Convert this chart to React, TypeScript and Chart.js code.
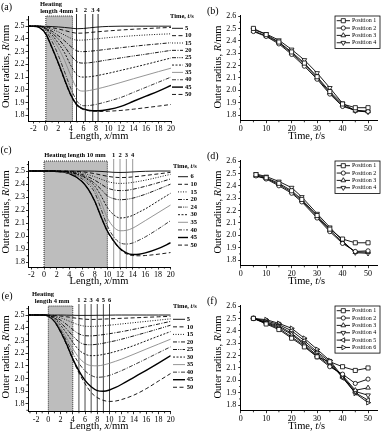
import React, { useEffect, useRef } from 'react';
import { Chart, registerables } from 'chart.js';

Chart.register(...registerables);

const SERIF = '"Liberation Serif", "Times New Roman", Times, serif';

// ---------------- Panel (a): heating length 4 mm ----------------
const A_X = [-3, -2, -1, 0, 1, 2, 3, 4, 5, 6, 7, 8, 9, 10, 12, 14, 16, 18, 20];
const A_TIMES = ['5', '10', '15', '20', '25', '30', '35', '40', '45', '50'];
const A_T5 = [2.5, 2.5, 2.5, 2.499, 2.497, 2.494, 2.49, 2.485, 2.48, 2.482, 2.487, 2.492, 2.496, 2.498, 2.5, 2.5, 2.5, 2.5, 2.5];
const A_T10 = [2.5, 2.5, 2.5, 2.495, 2.488, 2.478, 2.466, 2.453, 2.445, 2.446, 2.45, 2.455, 2.459, 2.463, 2.47, 2.476, 2.481, 2.486, 2.49];
const A_T15 = [2.5, 2.5, 2.5, 2.49, 2.475, 2.455, 2.43, 2.405, 2.39, 2.391, 2.395, 2.4, 2.405, 2.41, 2.418, 2.425, 2.431, 2.436, 2.44];
const A_T20 = [2.5, 2.5, 2.5, 2.485, 2.46, 2.425, 2.385, 2.34, 2.305, 2.3, 2.303, 2.308, 2.314, 2.32, 2.331, 2.342, 2.352, 2.361, 2.37];
const A_T25 = [2.5, 2.5, 2.5, 2.48, 2.445, 2.4, 2.34, 2.27, 2.22, 2.21, 2.213, 2.22, 2.228, 2.236, 2.251, 2.266, 2.28, 2.295, 2.31];
const A_T30 = [2.5, 2.5, 2.499, 2.475, 2.43, 2.365, 2.29, 2.19, 2.115, 2.1, 2.103, 2.11, 2.12, 2.13, 2.153, 2.176, 2.2, 2.225, 2.25];
const A_T35 = [2.5, 2.5, 2.498, 2.47, 2.41, 2.33, 2.23, 2.11, 2.01, 1.99, 1.995, 2.005, 2.017, 2.03, 2.058, 2.087, 2.115, 2.143, 2.17];
const A_T40 = [2.5, 2.5, 2.495, 2.46, 2.38, 2.27, 2.14, 2.01, 1.91, 1.875, 1.877, 1.885, 1.897, 1.91, 1.94, 1.98, 2.02, 2.06, 2.1];
const A_T45 = [2.5, 2.5, 2.488, 2.44, 2.33, 2.21, 2.08, 1.96, 1.88, 1.85, 1.838, 1.835, 1.838, 1.845, 1.87, 1.91, 1.95, 1.99, 2.035];
const A_T50 = [2.5, 2.5, 2.487, 2.435, 2.325, 2.205, 2.075, 1.955, 1.875, 1.845, 1.835, 1.831, 1.83, 1.832, 1.838, 1.848, 1.86, 1.872, 1.885];
const A_HEAT = [0, 4.25];
const A_POS = [4.9, 6.3, 7.5, 8.35];

// ---------------- Panel (b) ----------------
const B_T = [5, 10, 15, 20, 25, 30, 35, 40, 45, 50];
const B_P1 = [2.5, 2.45, 2.39, 2.31, 2.22, 2.11, 1.99, 1.89, 1.86, 1.86];
const B_P2 = [2.475, 2.435, 2.375, 2.29, 2.195, 2.09, 1.97, 1.87, 1.84, 1.83];
const B_P3 = [2.48, 2.44, 2.385, 2.3, 2.21, 2.1, 1.98, 1.88, 1.835, 1.83];
const B_P4 = [2.49, 2.455, 2.405, 2.33, 2.245, 2.14, 2.02, 1.895, 1.835, 1.825];

// ---------------- Panel (c): heating length 10 mm ----------------
const C_X = [-3, -2, 0, 2, 4, 6, 7, 8, 9, 10, 11, 12, 13, 14, 15, 16, 18, 20];
const C_TIMES = ['6', '10', '15', '20', '24', '30', '35', '40', '45', '50'];
const C_T6 = [2.5, 2.5, 2.5, 2.5, 2.5, 2.5, 2.5, 2.499, 2.497, 2.494, 2.49, 2.489, 2.49, 2.493, 2.496, 2.498, 2.5, 2.5];
const C_T10 = [2.5, 2.5, 2.5, 2.5, 2.499, 2.494, 2.488, 2.48, 2.47, 2.46, 2.453, 2.45, 2.451, 2.455, 2.46, 2.466, 2.478, 2.49];
const C_T15 = [2.5, 2.5, 2.5, 2.5, 2.496, 2.485, 2.472, 2.456, 2.438, 2.42, 2.409, 2.405, 2.407, 2.413, 2.421, 2.43, 2.452, 2.475];
const C_T20 = [2.5, 2.5, 2.5, 2.499, 2.493, 2.474, 2.455, 2.43, 2.4, 2.37, 2.355, 2.35, 2.352, 2.36, 2.371, 2.383, 2.41, 2.44];
const C_T24 = [2.5, 2.5, 2.5, 2.499, 2.49, 2.465, 2.44, 2.405, 2.36, 2.31, 2.288, 2.28, 2.283, 2.292, 2.306, 2.322, 2.36, 2.4];
const C_T30 = [2.5, 2.5, 2.5, 2.498, 2.488, 2.46, 2.43, 2.385, 2.31, 2.22, 2.165, 2.14, 2.145, 2.16, 2.185, 2.21, 2.27, 2.33];
const C_T35 = [2.5, 2.5, 2.5, 2.498, 2.485, 2.45, 2.415, 2.36, 2.26, 2.14, 2.07, 2.042, 2.045, 2.062, 2.09, 2.12, 2.18, 2.24];
const C_T40 = [2.5, 2.5, 2.5, 2.497, 2.482, 2.44, 2.4, 2.335, 2.21, 2.08, 1.995, 1.95, 1.94, 1.948, 1.97, 1.995, 2.055, 2.12];
const C_T45 = [2.5, 2.5, 2.5, 2.497, 2.48, 2.42, 2.36, 2.27, 2.15, 2.04, 1.965, 1.905, 1.872, 1.86, 1.862, 1.872, 1.905, 1.95];
const C_T50 = [2.5, 2.5, 2.5, 2.497, 2.48, 2.42, 2.36, 2.268, 2.148, 2.035, 1.96, 1.9, 1.865, 1.852, 1.85, 1.852, 1.862, 1.875];
const C_HEAT = [0, 10];
const C_POS = [11, 12, 13, 14];

// ---------------- Panel (d) ----------------
const D_T = [6, 10, 15, 20, 24, 30, 35, 40, 45, 50];
const D_P1 = [2.49, 2.465, 2.42, 2.36, 2.29, 2.16, 2.05, 1.97, 1.94, 1.94];
const D_P2 = [2.48, 2.455, 2.4, 2.34, 2.27, 2.14, 2.03, 1.935, 1.87, 1.875];
const D_P3 = [2.48, 2.46, 2.41, 2.35, 2.28, 2.15, 2.04, 1.945, 1.865, 1.865];
const D_P4 = [2.495, 2.475, 2.435, 2.385, 2.31, 2.175, 2.065, 1.955, 1.86, 1.855];

// ---------------- Panel (e): heating length 4 mm, six positions ----------------
const E_X = [-3.5, -1, 0, 1, 2, 3, 4, 5, 6, 7, 8, 9, 10, 11, 12, 14, 16, 18, 20];
const E_TIMES = ['5', '10', '15', '20', '25', '30', '35', '40', '45', '50'];
const E_T5 = [2.5, 2.5, 2.5, 2.5, 2.5, 2.499, 2.498, 2.497, 2.497, 2.497, 2.498, 2.498, 2.499, 2.5, 2.5, 2.5, 2.5, 2.5, 2.5];
const E_T10 = [2.5, 2.5, 2.499, 2.496, 2.492, 2.486, 2.479, 2.472, 2.467, 2.465, 2.466, 2.468, 2.47, 2.472, 2.474, 2.478, 2.482, 2.486, 2.49];
const E_T15 = [2.5, 2.5, 2.498, 2.49, 2.478, 2.46, 2.44, 2.422, 2.412, 2.41, 2.412, 2.416, 2.42, 2.425, 2.43, 2.44, 2.45, 2.46, 2.47];
const E_T20 = [2.5, 2.5, 2.497, 2.485, 2.46, 2.425, 2.385, 2.352, 2.337, 2.336, 2.34, 2.346, 2.353, 2.361, 2.369, 2.388, 2.408, 2.429, 2.45];
const E_T25 = [2.5, 2.5, 2.496, 2.478, 2.44, 2.39, 2.335, 2.29, 2.268, 2.266, 2.27, 2.278, 2.288, 2.298, 2.31, 2.336, 2.363, 2.391, 2.42];
const E_T30 = [2.5, 2.5, 2.495, 2.47, 2.42, 2.355, 2.285, 2.225, 2.192, 2.18, 2.182, 2.19, 2.2, 2.213, 2.227, 2.26, 2.297, 2.334, 2.37];
const E_T35 = [2.5, 2.5, 2.494, 2.462, 2.4, 2.32, 2.235, 2.165, 2.12, 2.102, 2.1, 2.107, 2.12, 2.136, 2.153, 2.192, 2.232, 2.271, 2.31];
const E_T40 = [2.5, 2.5, 2.493, 2.455, 2.385, 2.295, 2.2, 2.12, 2.06, 2.025, 2.01, 2.013, 2.025, 2.043, 2.063, 2.108, 2.155, 2.203, 2.25];
const E_T45 = [2.5, 2.5, 2.492, 2.45, 2.37, 2.27, 2.155, 2.06, 1.985, 1.935, 1.905, 1.9, 1.91, 1.93, 1.955, 2.01, 2.065, 2.122, 2.18];
const E_T50 = [2.5, 2.5, 2.492, 2.448, 2.365, 2.265, 2.15, 2.045, 1.96, 1.89, 1.85, 1.828, 1.82, 1.823, 1.835, 1.87, 1.92, 1.98, 2.04];
const E_HEAT = [0, 4];
const E_POS = [5, 6, 7, 8, 9, 10];

// ---------------- Panel (f) ----------------
const F_T = [5, 10, 15, 20, 25, 30, 35, 40, 45, 50];
const F_P1 = [2.5, 2.455, 2.41, 2.34, 2.27, 2.19, 2.15, 2.11, 2.08, 2.1];
const F_P2 = [2.5, 2.46, 2.42, 2.35, 2.28, 2.19, 2.11, 2.05, 1.975, 2.01];
const F_P3 = [2.5, 2.465, 2.43, 2.37, 2.29, 2.2, 2.12, 2.04, 1.92, 1.94];
const F_P4 = [2.5, 2.47, 2.44, 2.38, 2.3, 2.22, 2.13, 2.03, 1.91, 1.88];
const F_P5 = [2.5, 2.48, 2.45, 2.4, 2.32, 2.23, 2.15, 2.02, 1.9, 1.84];
const F_P6 = [2.5, 2.49, 2.46, 2.42, 2.34, 2.25, 2.16, 2.03, 1.895, 1.82];

// ---------------- ticks ----------------
const LEN_MAJOR = [-2, 0, 2, 4, 6, 8, 10, 12, 14, 16, 18, 20];
const LEN_MINOR = [-3, -1, 1, 3, 5, 7, 9, 11, 13, 15, 17, 19];
const R_MAJOR = [1.8, 1.9, 2.0, 2.1, 2.2, 2.3, 2.4, 2.5];
const R_MINOR = [1.75, 1.85, 1.95, 2.05, 2.15, 2.25, 2.35, 2.45, 2.55];
const T_MAJOR = [0, 10, 20, 30, 40, 50];
const T_MINOR = [5, 15, 25, 35, 45];
const R2_MAJOR = [1.8, 1.9, 2.0, 2.1, 2.2, 2.3, 2.4, 2.5, 2.6];
const R2_MINOR = [1.75, 1.85, 1.95, 2.05, 2.15, 2.25, 2.35, 2.45, 2.55];

// ---------------- styles ----------------
const CURVE_STYLES = [
  { dash: [], color: '#000', width: 0.9 },
  { dash: [4, 2.5], color: '#000', width: 0.9 },
  { dash: [1, 1.5], color: '#000', width: 0.9 },
  { dash: [4, 1.5, 1, 1.5], color: '#000', width: 0.9 },
  { dash: [4, 1.2, 1, 1.2, 1, 1.2], color: '#000', width: 0.9 },
  { dash: [2, 1.5], color: '#000', width: 0.9 },
  { dash: [], color: '#8a8a8a', width: 0.9 },
  { dash: [4, 1.5, 1, 1.5], color: '#222', width: 0.9 },
  { dash: [], color: '#000', width: 1.4 },
  { dash: [4, 2.5], color: '#000', width: 0.9 },
];
const MARKER_STYLES = [
  { style: 'rect', rot: 0, r: 2.9 },
  { style: 'circle', rot: 0, r: 2.1 },
  { style: 'triangle', rot: 0, r: 2.7 },
  { style: 'triangle', rot: 180, r: 2.7 },
  { style: 'triangle', rot: -90, r: 2.7 },
  { style: 'triangle', rot: 90, r: 2.7 },
];

type Part = [string, boolean];

function rich(ctx: any, parts: Part[], x: number, y: number, size: number, opt: any = {}) {
  ctx.save();
  ctx.translate(x, y);
  if (opt.rotate) ctx.rotate(-Math.PI / 2);
  const font = (it: boolean) => `${it ? 'italic ' : ''}${opt.bold ? 'bold ' : ''}${size}px ${SERIF}`;
  let total = 0;
  for (const [t, it] of parts) {
    ctx.font = font(it);
    total += ctx.measureText(t).width;
  }
  let cx = opt.align === 'left' ? 0 : -total / 2;
  ctx.textBaseline = 'middle';
  ctx.textAlign = 'left';
  ctx.fillStyle = '#000';
  for (const [t, it] of parts) {
    ctx.font = font(it);
    ctx.fillText(t, cx, 0);
    cx += ctx.measureText(t).width;
  }
  ctx.restore();
}

function drawMarker(ctx: any, m: any, x: number, y: number) {
  ctx.beginPath();
  if (m.style === 'rect') {
    const s = m.r * Math.SQRT1_2;
    ctx.rect(x - s, y - s, 2 * s, 2 * s);
  } else if (m.style === 'circle') {
    ctx.arc(x, y, m.r, 0, Math.PI * 2);
  } else {
    let a = (m.rot * Math.PI) / 180;
    for (let k = 0; k < 3; k++) {
      const px = x + Math.sin(a) * m.r;
      const py = y - Math.cos(a) * m.r;
      if (k === 0) ctx.moveTo(px, py);
      else ctx.lineTo(px, py);
      a += (2 * Math.PI) / 3;
    }
    ctx.closePath();
  }
  ctx.fillStyle = '#fff';
  ctx.fill();
  ctx.strokeStyle = '#000';
  ctx.lineWidth = 0.8;
  ctx.stroke();
}

function drawMinor(chart: any, s: any) {
  const ctx = chart.ctx;
  const a = chart.chartArea;
  ctx.strokeStyle = '#000';
  ctx.lineWidth = 0.8;
  ctx.setLineDash([]);
  for (const v of s.xMinor) {
    if (v < s.xMin || v > s.xMax) continue;
    const px = chart.scales.x.getPixelForValue(v);
    ctx.beginPath();
    ctx.moveTo(px, a.bottom);
    ctx.lineTo(px, a.bottom + 1.6);
    ctx.stroke();
  }
  for (const v of s.yMinor) {
    if (v < s.yMin || v > s.yMax) continue;
    const py = chart.scales.y.getPixelForValue(v);
    ctx.beginPath();
    ctx.moveTo(a.left, py);
    ctx.lineTo(a.left - 1.6, py);
    ctx.stroke();
  }
}

function lengthSpec(p: any) {
  return {
    key: p.key, left: 0, top: p.top, w: 200, h: 145, area: p.area,
    xMin: p.xMin, xMax: 20, yMin: p.yMin, yMax: p.yMax,
    xMajor: LEN_MAJOR, xMinor: LEN_MINOR, yMajor: R_MAJOR, yMinor: R_MINOR,
    xFmt: (v: number) => String(v),
    datasets: p.curves.map((c: number[], i: number) => ({
      label: p.times[i],
      data: p.xs.map((x: number, j: number) => ({ x, y: c[j] })),
      borderColor: CURVE_STYLES[i].color,
      borderWidth: CURVE_STYLES[i].width,
      borderDash: CURVE_STYLES[i].dash,
      pointRadius: 0,
      cubicInterpolationMode: 'monotone',
      fill: false,
    })),
    under: (chart: any, ctx: any) => {
      const a = chart.chartArea;
      const xs = chart.scales.x;
      const x0 = xs.getPixelForValue(p.heat[0]);
      const x1 = xs.getPixelForValue(p.heat[1]);
      ctx.fillStyle = '#bdbdbd';
      ctx.fillRect(x0, a.top, x1 - x0, a.bottom - a.top);
      ctx.strokeStyle = '#000';
      ctx.lineWidth = 0.8;
      ctx.setLineDash([1, 1]);
      ctx.beginPath();
      ctx.moveTo(x0, a.bottom);
      ctx.lineTo(x0, a.top);
      ctx.lineTo(x1, a.top);
      ctx.lineTo(x1, a.bottom);
      ctx.stroke();
      ctx.setLineDash([]);
      ctx.strokeStyle = p.posColor;
      ctx.lineWidth = 0.9;
      for (const v of p.pos) {
        const px = xs.getPixelForValue(v);
        ctx.beginPath();
        ctx.moveTo(px, a.bottom);
        ctx.lineTo(px, a.top - 2);
        ctx.stroke();
      }
    },
    over: (chart: any, ctx: any) => {
      const a = chart.chartArea;
      const xs = chart.scales.x;
      ctx.fillStyle = '#000';
      ctx.textAlign = 'center';
      ctx.textBaseline = 'middle';
      ctx.font = `bold 6.5px ${SERIF}`;
      p.pos.forEach((v: number, i: number) => ctx.fillText(String(i + 1), xs.getPixelForValue(v), a.top - 6));
      for (const [t, cx, cy] of p.heatLines) ctx.fillText(t, cx, cy);
      const L = p.leg;
      rich(ctx, [['Time, ', false], ['t', true], ['/s', false]], L.headX, L.headY, 6.5, { bold: true, align: 'left' });
      p.times.forEach((t: string, i: number) => {
        const y = L.y0 + i * L.step;
        const st = CURVE_STYLES[i];
        ctx.strokeStyle = st.color;
        ctx.lineWidth = st.width;
        ctx.setLineDash(st.dash);
        ctx.beginPath();
        ctx.moveTo(L.x1, y);
        ctx.lineTo(L.x2, y);
        ctx.stroke();
        ctx.setLineDash([]);
        ctx.fillStyle = '#000';
        ctx.font = `bold 6.5px ${SERIF}`;
        ctx.textAlign = 'left';
        ctx.textBaseline = 'middle';
        ctx.fillText(t, L.lx, y);
      });
      rich(ctx, [['Outer radius, ', false], ['R', true], ['/mm', false]], 6.5, (a.top + a.bottom) / 2 - 2, 10.5, { rotate: true });
      rich(ctx, [['Length, ', false], ['x', true], ['/mm', false]], 99, 136, 10.5);
      ctx.font = `10px ${SERIF}`;
      ctx.textAlign = 'left';
      ctx.textBaseline = 'middle';
      ctx.fillStyle = '#000';
      ctx.fillText(p.label[0], p.label[1], p.label[2]);
    },
  };
}

function timeSpec(p: any) {
  return {
    key: p.key, left: 200, top: p.top, w: 182, h: 145, area: [40.7, 15.4, 180, 120.7],
    xMin: 0, xMax: 53.6, yMin: 1.755, yMax: 2.605,
    xMajor: T_MAJOR, xMinor: T_MINOR, yMajor: R2_MAJOR, yMinor: R2_MINOR,
    xFmt: (v: number) => String(v),
    datasets: p.series.map((s: number[], i: number) => ({
      label: 'Position ' + (i + 1),
      data: p.ts.map((t: number, j: number) => ({ x: t, y: s[j] })),
      borderColor: '#000',
      borderWidth: 0.9,
      pointStyle: MARKER_STYLES[i].style,
      pointRotation: MARKER_STYLES[i].rot,
      pointRadius: MARKER_STYLES[i].r,
      pointBackgroundColor: '#fff',
      pointBorderColor: '#000',
      pointBorderWidth: 0.8,
      tension: 0,
      fill: false,
    })),
    over: (chart: any, ctx: any) => {
      const a = chart.chartArea;
      const n = p.series.length;
      const bl = 135, bt = 16, br = 180;
      const bb = bt + 3 + n * 7.35;
      ctx.fillStyle = '#fff';
      ctx.fillRect(bl, bt, br - bl, bb - bt);
      ctx.strokeStyle = '#000';
      ctx.lineWidth = 0.8;
      ctx.setLineDash([]);
      ctx.strokeRect(bl, bt, br - bl, bb - bt);
      for (let i = 0; i < n; i++) {
        const y = bt + 4.7 + i * 7.35;
        ctx.strokeStyle = '#000';
        ctx.lineWidth = 0.9;
        ctx.beginPath();
        ctx.moveTo(bl + 1.7, y);
        ctx.lineTo(bl + 15, y);
        ctx.stroke();
        drawMarker(ctx, MARKER_STYLES[i], bl + 8.3, y);
        ctx.fillStyle = '#000';
        ctx.font = `6px ${SERIF}`;
        ctx.textAlign = 'left';
        ctx.textBaseline = 'middle';
        ctx.fillText('Position ' + (i + 1), bl + 17, y);
      }
      rich(ctx, [['Outer radius, ', false], ['R', true], ['/mm', false]], 18.5, (a.top + a.bottom) / 2 - 1, 10.5, { rotate: true });
      rich(ctx, [['Time, ', false], ['t', true], ['/s', false]], 106.7, 136, 10.5);
      ctx.font = `10px ${SERIF}`;
      ctx.textAlign = 'left';
      ctx.textBaseline = 'middle';
      ctx.fillStyle = '#000';
      ctx.fillText(p.label, 7, 11);
    },
  };
}

const SPECS: any[] = [
  lengthSpec({
    key: 'a', top: 0, area: [28, 16, 171, 121], xMin: -2.85, yMin: 1.755, yMax: 2.58,
    xs: A_X, curves: [A_T5, A_T10, A_T15, A_T20, A_T25, A_T30, A_T35, A_T40, A_T45, A_T50], times: A_TIMES,
    heat: A_HEAT, pos: A_POS, posColor: '#111',
    heatLines: [['Heating', 51, 4.5], ['length 4mm', 56.7, 11.3]],
    leg: { headX: 170, headY: 16.7, x1: 172, x2: 183, lx: 185, y0: 28.3, step: 7.35 },
    label: ['(a)', 1, 7.5],
  }),
  timeSpec({ key: 'b', top: 0, ts: B_T, series: [B_P1, B_P2, B_P3, B_P4], label: '(b)' }),
  lengthSpec({
    key: 'c', top: 145, area: [28.5, 16, 170.7, 122], xMin: -2.45, yMin: 1.764, yMax: 2.577,
    xs: C_X, curves: [C_T6, C_T10, C_T15, C_T20, C_T24, C_T30, C_T35, C_T40, C_T45, C_T50], times: C_TIMES,
    heat: C_HEAT, pos: C_POS, posColor: '#8c8c8c',
    heatLines: [['Heating length 10 mm', 75, 10.5]],
    leg: { headX: 173, headY: 21.7, x1: 178, x2: 188, lx: 190.5, y0: 31.7, step: 7.6 },
    label: ['(c)', 0.5, 5.5],
  }),
  timeSpec({ key: 'd', top: 145, ts: D_T, series: [D_P1, D_P2, D_P3, D_P4], label: '(d)' }),
  lengthSpec({
    key: 'e', top: 290, area: [28, 16, 170.7, 121.7], xMin: -3.32, yMin: 1.739, yMax: 2.571,
    xs: E_X, curves: [E_T5, E_T10, E_T15, E_T20, E_T25, E_T30, E_T35, E_T40, E_T45, E_T50], times: E_TIMES,
    heat: E_HEAT, pos: E_POS, posColor: '#333',
    heatLines: [['Heating', 43, 4.3], ['length 4 mm', 52, 11.3]],
    leg: { headX: 173, headY: 16.7, x1: 173, x2: 185, lx: 186.7, y0: 29.3, step: 7.55 },
    label: ['(e)', 1.5, 6.5],
  }),
  timeSpec({ key: 'f', top: 290, ts: F_T, series: [F_P1, F_P2, F_P3, F_P4, F_P5, F_P6], label: '(f)' }),
];

function buildConfig(s: any): any {
  const [L, T, R, B] = s.area;
  const plugin = {
    id: 'decor_' + s.key,
    beforeDraw(chart: any) {
      if (!s.under) return;
      const ctx = chart.ctx;
      ctx.save();
      s.under(chart, ctx);
      ctx.restore();
    },
    afterDraw(chart: any) {
      const ctx = chart.ctx;
      ctx.save();
      drawMinor(chart, s);
      s.over(chart, ctx);
      ctx.restore();
    },
  };
  const tickFont = { family: SERIF, size: 8 };
  return {
    type: 'line',
    data: { datasets: s.datasets },
    options: {
      responsive: false,
      animation: false,
      devicePixelRatio: 1,
      events: [],
      layout: { padding: { left: 0, top: T, right: s.w - R, bottom: 0 } },
      plugins: { legend: { display: false }, tooltip: { enabled: false }, title: { display: false } },
      scales: {
        x: {
          type: 'linear', bounds: 'data', min: s.xMin, max: s.xMax,
          afterBuildTicks: (sc: any) => { sc.ticks = s.xMajor.map((v: number) => ({ value: v })); },
          afterFit: (sc: any) => { sc.height = s.h - B; },
          ticks: { color: '#000', font: tickFont, padding: 1, maxRotation: 0, minRotation: 0, autoSkip: false, callback: (v: number) => s.xFmt(v) },
          grid: { drawOnChartArea: false, drawTicks: true, tickLength: 2.5, tickColor: '#000', tickWidth: 0.8 },
          border: { display: true, color: '#000', width: 1 },
        },
        y: {
          type: 'linear', bounds: 'data', min: s.yMin, max: s.yMax,
          afterBuildTicks: (sc: any) => { sc.ticks = s.yMajor.map((v: number) => ({ value: v })); },
          afterFit: (sc: any) => { sc.width = L; },
          ticks: { color: '#000', font: tickFont, padding: s.left > 0 ? 2 : 1, autoSkip: false, callback: (v: number) => Number(v).toFixed(1) },
          grid: { drawOnChartArea: false, drawTicks: true, tickLength: 2.5, tickColor: '#000', tickWidth: 0.8 },
          border: { display: true, color: '#000', width: 1 },
        },
      },
    },
    plugins: [plugin],
  };
}

function Panel({ spec }: { spec: any }) {
  const ref = useRef<HTMLCanvasElement>(null);
  useEffect(() => {
    const c = ref.current;
    if (!c) return;
    const chart = new Chart(c, buildConfig(spec));
    return () => chart.destroy();
  }, [spec]);
  return (
    <canvas
      ref={ref}
      width={spec.w}
      height={spec.h}
      style={{ position: 'absolute', left: spec.left, top: spec.top, width: spec.w, height: spec.h }}
    />
  );
}

export default function App() {
  return (
    <div style={{ position: 'fixed', left: 0, top: 0, width: 382, height: 435, background: '#fff', overflow: 'hidden' }}>
      {SPECS.map((s) => (
        <Panel key={s.key} spec={s} />
      ))}
    </div>
  );
}
